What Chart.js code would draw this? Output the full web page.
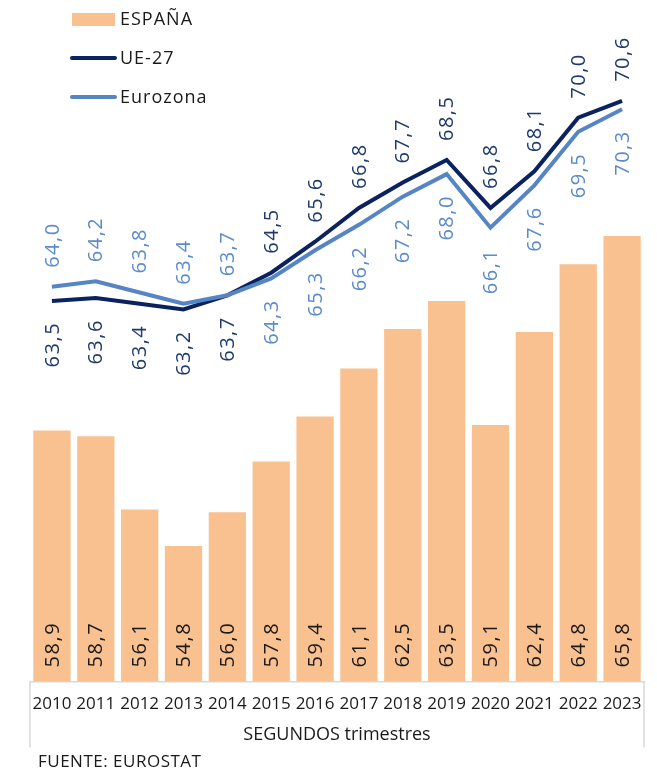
<!DOCTYPE html>
<html lang="es">
<head>
<meta charset="utf-8">
<title>Tasa de empleo - segundos trimestres</title>
<script src="https://cdn.jsdelivr.net/npm/chart.js@4"></script>
<style>
    html, body { margin: 0; padding: 0; background: #ffffff; }
    #wrap { position: relative; width: 657px; height: 772px; }
</style>
</head>
<body>
<div id="wrap"><canvas id="chart"></canvas></div>
<script>
"use strict";

// Datos (segundos trimestres)
const years = ["2010", "2011", "2012", "2013", "2014", "2015", "2016", "2017", "2018", "2019", "2020", "2021", "2022", "2023"];
const espana = [58.9, 58.7, 56.1, 54.8, 56.0, 57.8, 59.4, 61.1, 62.5, 63.5, 59.1, 62.4, 64.8, 65.8];
const ue27 = [63.5, 63.6, 63.4, 63.2, 63.7, 64.5, 65.6, 66.8, 67.7, 68.5, 66.8, 68.1, 70.0, 70.6];
const eurozona = [64.0, 64.2, 63.8, 63.4, 63.7, 64.3, 65.3, 66.2, 67.2, 68.0, 66.1, 67.6, 69.5, 70.3];

const axisTitle = "SEGUNDOS trimestres";
const sourceText = "FUENTE: EUROSTAT";

const FONT = "'Open Sans', sans-serif";
const COLOR_BAR = "#F9C190";
const COLOR_UE = "#0B2260";
const COLOR_EZ = "#5685C4";
const COLOR_GRID = "#D9D9D9";

function FormatValue(v) {
    return v.toFixed(1).replace(".", ",");
}

// Etiquetas giradas de barras y lineas
const valueLabels = {
    id: "valueLabels",
    afterDatasetsDraw(chart) {
        const { ctx, chartArea } = chart;
        ctx.save();
        ctx.font = "20px " + FONT;
        ctx.letterSpacing = "1.5px";
        ctx.textBaseline = "middle";

        // Barras: etiqueta abajo, dentro de la barra
        let barMeta = chart.getDatasetMeta(0);
        barMeta.data.forEach((bar, i) => {
            ctx.save();
            ctx.translate(bar.x + 1, chartArea.bottom - 14);
            ctx.rotate(-Math.PI / 2);
            ctx.fillStyle = "#1A1A1A";
            ctx.textAlign = "left";
            ctx.fillText(FormatValue(espana[i]), 0, 0);
            ctx.restore();
        });

        // Lineas: la serie mas alta pone su etiqueta arriba
        const lines = [
            { index: 1, values: ue27, other: eurozona, color: "#1F3A6E", aboveWhenEqual: false },
            { index: 2, values: eurozona, other: ue27, color: "#5B8BCB", aboveWhenEqual: true }
        ];
        lines.forEach(line => {
            let meta = chart.getDatasetMeta(line.index);
            meta.data.forEach((pt, i) => {
                let v = line.values[i];
                let o = line.other[i];
                let above = v > o || (v === o && line.aboveWhenEqual);
                ctx.save();
                ctx.translate(pt.x + 1, above ? pt.y - 19 : pt.y + 21);
                ctx.rotate(-Math.PI / 2);
                ctx.fillStyle = line.color;
                ctx.textAlign = above ? "left" : "right";
                ctx.fillText(FormatValue(v), 0, 0);
                ctx.restore();
            });
        });
        ctx.restore();
    }
};

// Leyenda dentro del grafico, caja del eje y fuente
const decorations = {
    id: "decorations",
    afterDraw(chart) {
        const { ctx, chartArea } = chart;
        ctx.save();

        // Caja de categorias
        ctx.strokeStyle = COLOR_GRID;
        ctx.lineWidth = 1.5;
        ctx.beginPath();
        ctx.moveTo(chartArea.left, chartArea.bottom);
        ctx.lineTo(chartArea.left, chartArea.bottom + 66);
        ctx.moveTo(chartArea.right, chartArea.bottom);
        ctx.lineTo(chartArea.right, chartArea.bottom + 66);
        ctx.stroke();

        // Leyenda
        ctx.font = "18px " + FONT;
        ctx.letterSpacing = "1px";
        ctx.textBaseline = "middle";
        ctx.textAlign = "left";
        const items = chart.data.datasets;
        const rows = [19, 58, 97];
        items.forEach((ds, i) => {
            let y = rows[i];
            if (ds.type === "bar") {
                ctx.fillStyle = ds.backgroundColor;
                ctx.fillRect(72, y - 6, 43, 13);
            } else {
                ctx.strokeStyle = ds.borderColor;
                ctx.lineWidth = 4;
                ctx.lineCap = "round";
                ctx.beginPath();
                ctx.moveTo(72, y);
                ctx.lineTo(115, y);
                ctx.stroke();
            }
            ctx.fillStyle = "#1A1A1A";
            ctx.fillText(ds.label, 120, y + 1);
        });

        // Fuente
        ctx.font = "17px " + FONT;
        ctx.letterSpacing = "0.5px";
        ctx.fillStyle = "#1A1A1A";
        ctx.fillText(sourceText, 38, 762);
        ctx.restore();
    }
};

new Chart(document.getElementById("chart"), {
    data: {
        labels: years,
        datasets: [
            {
                type: "bar",
                label: "ESPAÑA",
                data: espana,
                backgroundColor: COLOR_BAR,
                borderWidth: 0,
                categoryPercentage: 1,
                barPercentage: 0.85,
                order: 2
            },
            {
                type: "line",
                label: "UE-27",
                data: ue27,
                borderColor: COLOR_UE,
                backgroundColor: COLOR_UE,
                borderWidth: 4,
                tension: 0,
                pointRadius: 0,
                order: 1
            },
            {
                type: "line",
                label: "Eurozona",
                data: eurozona,
                borderColor: COLOR_EZ,
                backgroundColor: COLOR_EZ,
                borderWidth: 4,
                tension: 0,
                pointRadius: 0,
                order: 0
            }
        ]
    },
    options: {
        responsive: true,
        maintainAspectRatio: false,
        animation: false,
        layout: {
            padding: { left: 30, right: 13, top: 5, bottom: 26 }
        },
        plugins: {
            legend: { display: false },
            tooltip: { enabled: false }
        },
        scales: {
            x: {
                offset: true,
                grid: { display: false, drawTicks: false },
                border: { display: true, color: COLOR_GRID, width: 1.5 },
                ticks: {
                    color: "#1A1A1A",
                    font: { family: FONT, size: 17, lineHeight: 1 },
                    padding: 14,
                    maxRotation: 0,
                    autoSkip: false
                },
                title: {
                    display: true,
                    text: axisTitle,
                    color: "#1A1A1A",
                    font: { family: FONT, size: 18 },
                    padding: { top: -2, bottom: 0 }
                }
            },
            y: {
                display: false,
                min: 50,
                max: 74
            }
        }
    },
    plugins: [valueLabels, decorations]
});
</script>
</body>
</html>
